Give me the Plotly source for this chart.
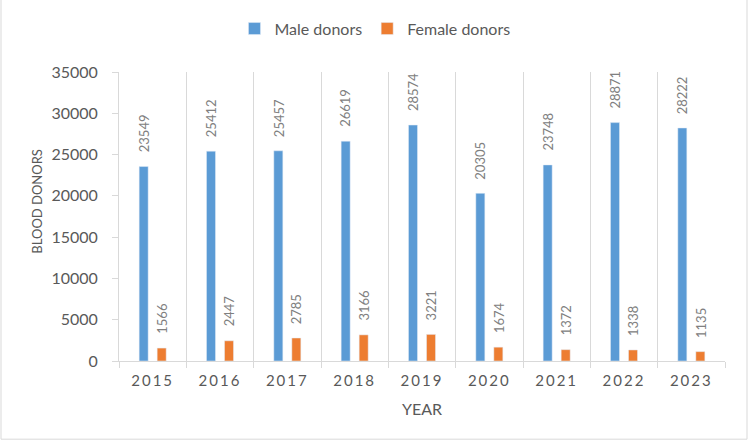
import plotly.graph_objects as go

years = ["2015", "2016", "2017", "2018", "2019", "2020", "2021", "2022", "2023"]
male = [23549, 25412, 25457, 26619, 28574, 20305, 23748, 28871, 28222]
female = [1566, 2447, 2785, 3166, 3221, 1674, 1372, 1338, 1135]
y_ticks = [0, 5000, 10000, 15000, 20000, 25000, 30000, 35000]

BLUE = "#5B9BD5"
ORANGE = "#ED7D31"
FONT = "Lato"
TXT = "#595959"
LBL = "#808080"
LINE = "#D9D9D9"

fig = go.Figure()
fig.add_bar(x=years, y=male, name="Male donors", marker_color=BLUE)
fig.add_bar(x=years, y=female, name="Female donors", marker_color=ORANGE)

annotations = []
for i, (m, f) in enumerate(zip(male, female)):
    for val, shift in ((m, -9), (f, 9)):
        annotations.append(dict(
            x=i, y=val, xref="x", yref="y", text=str(val), showarrow=False,
            textangle=-90, xanchor="center", yanchor="bottom",
            xshift=shift, yshift=12, font=dict(family=FONT, size=13, color=LBL),
        ))

# y-axis title placed like the reference (slightly above the plot centre)
annotations.append(dict(
    text="BLOOD DONORS", xref="paper", yref="paper",
    x=(37 - 119) / 606, y=(361 - 200) / 292, xanchor="center", yanchor="middle",
    textangle=-90, showarrow=False, font=dict(family=FONT, size=13, color=TXT),
))

fig.update_layout(
    width=750, height=441,
    margin=dict(l=119, r=25, t=69, b=80),
    paper_bgcolor="white", plot_bgcolor="white",
    barmode="group", bargap=0.465, bargroupgap=0.5,
    font=dict(family=FONT, color=TXT),
    legend=dict(orientation="h", x=0.4224, xanchor="center", y=1.15, yanchor="middle",
                font=dict(family=FONT, size=16, color=TXT), itemwidth=30),
    annotations=annotations,
    shapes=[dict(type="rect", xref="paper", yref="paper",
                 x0=(1 - 119) / 606, x1=(747 - 119) / 606,
                 y0=(361 - 440) / 292, y1=(361 + 10) / 292,
                 line=dict(color=LINE, width=1), layer="below")],
)
fig.update_xaxes(
    type="category", range=[-0.5, len(years) - 0.5], autorange=False,
    tickson="boundaries", showgrid=True, gridcolor=LINE, gridwidth=1,
    showline=True, linecolor=LINE, linewidth=1, ticks="outside", ticklen=6, tickcolor=LINE,
    tickvals=years,
    ticktext=[f'<span style="letter-spacing:2px">{y}</span>' for y in years],
    tickfont=dict(family=FONT, size=15, color=TXT), ticklabelstandoff=6, tickangle=0,
    title=dict(text="YEAR", font=dict(family=FONT, size=16, color=TXT), standoff=15),
)
fig.update_yaxes(
    range=[0, 35000], tickvals=y_ticks, ticktext=[str(v) for v in y_ticks],
    showgrid=False, zeroline=False,
    showline=True, linecolor=LINE, linewidth=1, ticks="outside", ticklen=6, tickcolor=LINE,
    tickfont=dict(family=FONT, size=16, color=TXT), ticklabelstandoff=11,
)

fig.write_html("out.html")
